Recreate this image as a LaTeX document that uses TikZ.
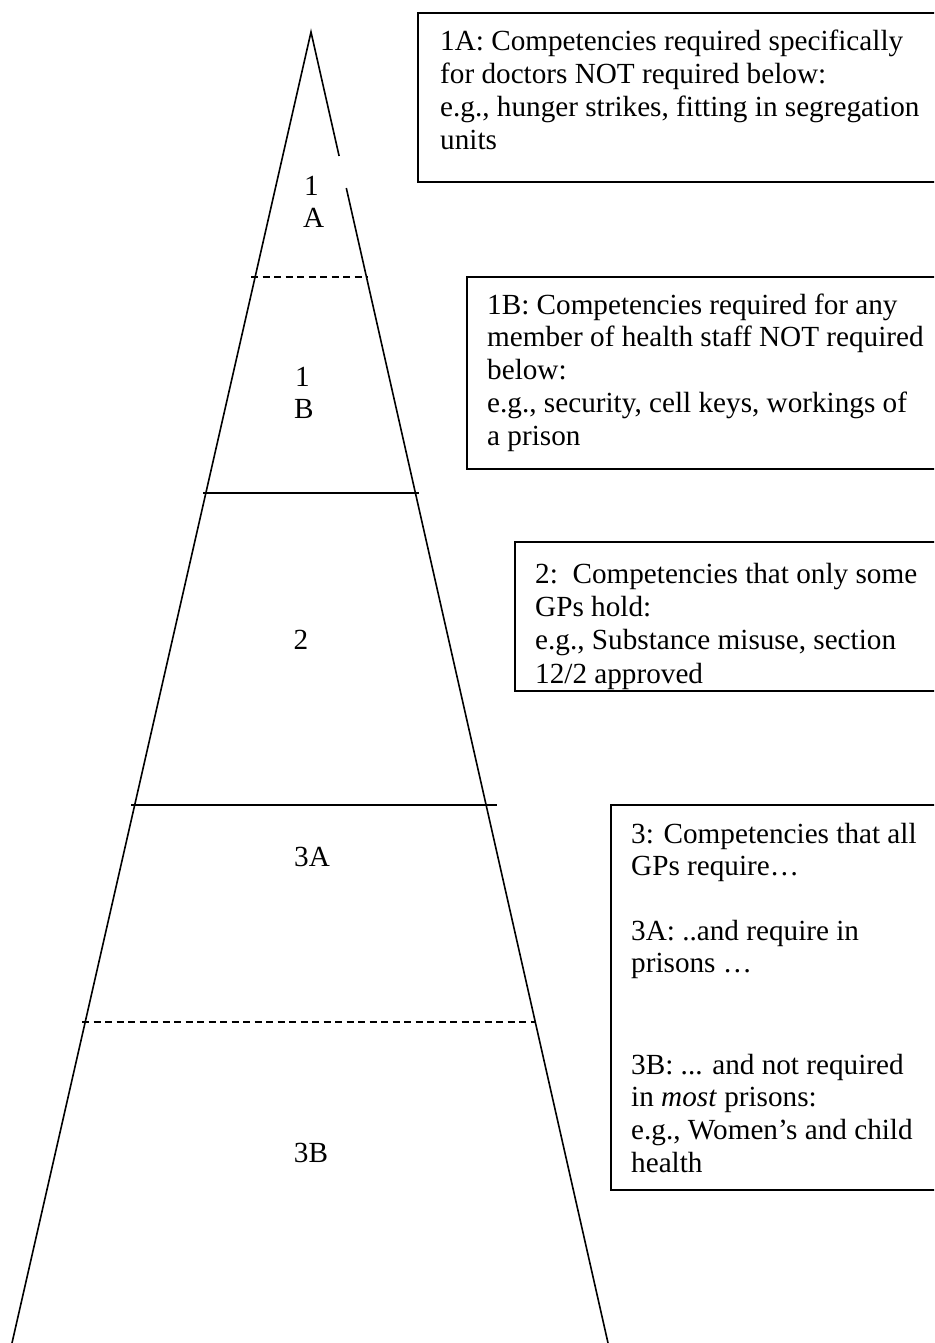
\documentclass[tikz,border=0pt]{standalone}
\usepackage{fontspec}
\setmainfont{Liberation Serif}
\begin{document}
\begin{tikzpicture}[x=1pt,y=-1pt,
  pyr/.style={line width=1.6pt},
  divdash/.style={line width=1.5pt, dash pattern=on 7pt off 4.5pt},
  divsolid/.style={line width=1.5pt},
  boxline/.style={line width=1.5pt},
  txt/.style={inner sep=0pt, anchor=base west, font=\fontsize{29.2}{33}\selectfont},
  lbl/.style={inner sep=0pt, anchor=base, font=\fontsize{29.2}{33}\selectfont},
  lblw/.style={inner sep=0pt, anchor=base west, font=\fontsize{29.2}{33}\selectfont}]
\useasboundingbox (0,0) rectangle (934,1343);
\fill[white] (0,0) rectangle (934,1343);
\clip (0,0) rectangle (934,1343);

% pyramid
\coordinate (apex) at (311,32);
\coordinate (bl) at (10.4,1350);
\coordinate (br) at (609.6,1350);
\coordinate (gapA) at (339.1,156);
\coordinate (gapB) at (346.3,188);
\draw[pyr] (bl) -- (apex) -- (gapA);
\draw[pyr] (gapB) -- (br);

% dividers
\coordinate (d1l) at (251,277);  \coordinate (d1r) at (368,277);
\coordinate (d2l) at (203,493);  \coordinate (d2r) at (419,493);
\coordinate (d3l) at (131,805);  \coordinate (d3r) at (497,805);
\coordinate (d4l) at (82,1022);  \coordinate (d4r) at (536,1022);
\draw[divdash] (d1l) -- (d1r);
\draw[divsolid] (d2l) -- (d2r);
\draw[divsolid] (d3l) -- (d3r);
\draw[divdash] (d4l) -- (d4r);

% pyramid labels
\node[lblw] (l1a1) at (304,196) {1};
\node[lblw] (l1a2) at (303,227.5) {A};
\node[lblw] (l1b1) at (295,386.5) {1};
\node[lblw] (l1b2) at (294,418) {B};
\node[lbl] (l2) at (301,649) {2};
\node[lbl] (l3a) at (312,866) {3A};
\node[lbl] (l3b) at (311,1162) {3B};

% box 3 text (drawn first so the border cuts its descenders)
\node[txt] (b3a) at (535,583) {2:\ \ Competencies that only some};
\node[txt] (b3b) at (535,616.3) {GPs hold:};
\node[txt] (b3c) at (535,649.6) {e.g., Substance misuse, section};
\node[txt] (b3d) at (535,683) {12/2 approved};

% boxes (open on the right, running off the page)
\draw[boxline] (940,13) -- (418,13) -- (418,182) -- (940,182);
\draw[boxline] (940,277) -- (467,277) -- (467,469) -- (940,469);
\draw[boxline] (940,542) -- (515,542) -- (515,691) -- (940,691);
\draw[boxline] (940,805) -- (611,805) -- (611,1190) -- (940,1190);

% box 1 text
\node[txt] (b1a) at (440,51) {1A: Competencies required specifically};
\node[txt] (b1b) at (440,83.8) {for doctors NOT required below:};
\node[txt] (b1c) at (440,116.6) {e.g., hunger strikes, fitting in segregation};
\node[txt] (b1d) at (440,149.4) {units};

% box 2 text
\node[txt] (b2a) at (487,314) {1B: Competencies required for any};
\node[txt] (b2b) at (487,346.8) {member of health staff NOT required};
\node[txt] (b2c) at (487,379.6) {below:};
\node[txt] (b2d) at (487,412.4) {e.g., security, cell keys, workings of};
\node[txt] (b2e) at (487,445.2) {a prison};

% box 4 text
\node[txt] (b4a) at (631,843) {3: Competencies that all};
\node[txt] (b4b) at (631,875.8) {GPs require…};
\node[txt] (b4c) at (631,940) {3A: ..and require in};
\node[txt] (b4d) at (631,972.8) {prisons …};
\node[txt] (b4e) at (631,1074) {3B: ... and not required};
\node[txt] (b4f) at (631,1106.8) {in \textit{most} prisons:};
\node[txt] (b4g) at (631,1139.6) {e.g., Women’s and child};
\node[txt] (b4h) at (631,1172.4) {health};
\end{tikzpicture}
\end{document}
